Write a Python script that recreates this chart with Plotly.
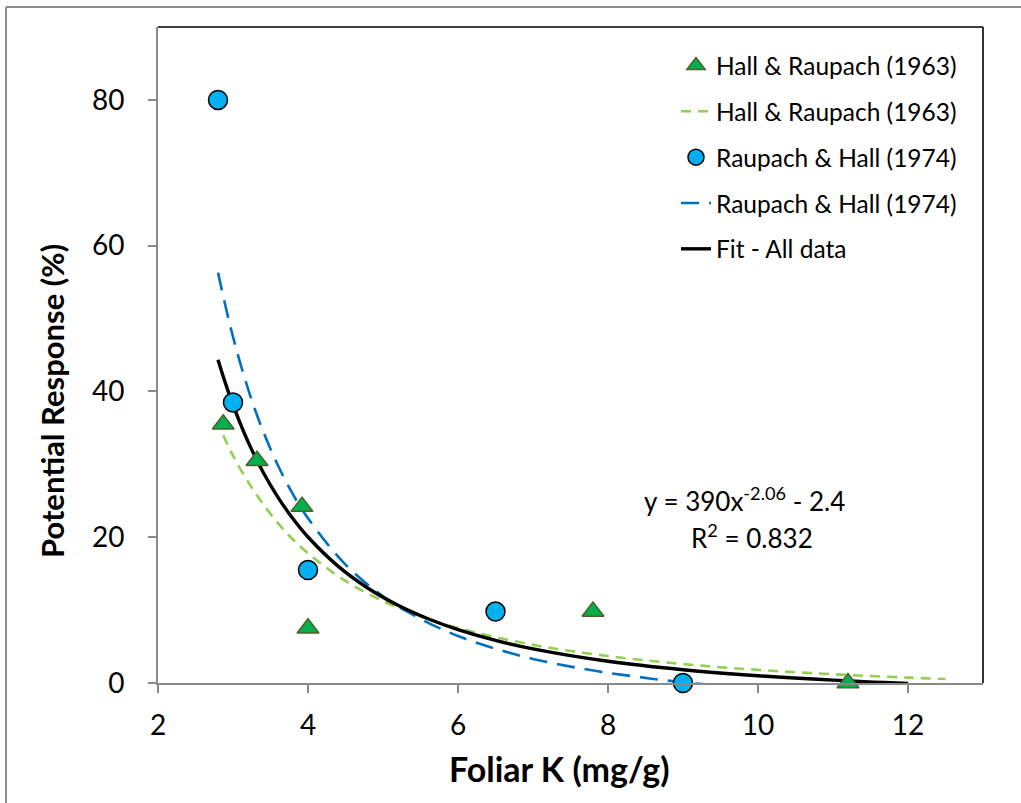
import plotly.graph_objects as go

FONT = "Lato"

# Observed responses, Hall & Raupach (1963)
hr63_k = [2.87, 3.32, 3.92, 4.0, 7.8, 11.2]
hr63_resp = [35.5, 30.5, 24.2, 7.5, 9.8, 0.0]

# Observed responses, Raupach & Hall (1974)
rh74_k = [2.8, 3.0, 4.0, 6.5, 9.0]
rh74_resp = [80.0, 38.5, 15.5, 9.8, 0.0]

# Response curve fitted to the 1963 data
hr63_curve_k = [2.87, 3.0, 3.25, 3.5, 3.75, 4.0, 4.5, 5.0, 5.5, 6.0, 7.0, 8.0, 9.0, 10.0, 11.0, 12.0, 12.5]
hr63_curve_resp = [34.0, 31.2, 26.8, 23.2, 20.2, 17.8, 14.0, 11.25, 9.16, 7.54, 5.23, 3.7, 2.6, 1.8, 1.2, 0.74, 0.54]

# Response curve fitted to the 1974 data
rh74_curve_k = [2.8, 3.0, 3.25, 3.5, 3.75, 4.0, 4.5, 5.0, 5.5, 6.0, 6.5, 7.0, 7.5, 8.0, 8.5, 9.0, 9.5]
rh74_curve_resp = [56.3, 47.5, 38.8, 32.1, 26.8, 22.6, 16.25, 11.9, 8.8, 6.45, 4.7, 3.3, 2.25, 1.4, 0.7, 0.1, -0.35]

# Combined fit over all data: y = a * x^b + c
fit_a = 390
fit_b = -2.06
fit_c = -2.4
fit_r2 = 0.832
fit_k = [2.8, 2.9, 3.0, 3.2, 3.4, 3.6, 3.8, 4.0, 4.4, 4.8, 5.2, 5.6, 6.0, 6.5, 7.0, 8.0, 9.0, 10.0, 11.0, 12.0]
fit_resp = [fit_a * k ** fit_b + fit_c for k in fit_k]

x_ticks = [2, 4, 6, 8, 10, 12]
y_ticks = [0, 20, 40, 60, 80]

# Page geometry (pixels)
W, H = 1021, 803
ML, MR, MT, MB = 158, 38, 27, 120
PW, PH = W - ML - MR, H - MT - MB


def px(x):
    return (x - ML) / PW


def py(y):
    return (H - MB - y) / PH


TRI_FILL = "#00B050"
TRI_EDGE = "#4F6228"
DOT_FILL = "#00B0F0"
GREEN_DASH = "#92D050"
BLUE_DASH = "#0070C0"
AXIS_GREY = "#898989"

fig = go.Figure()

# curves first so the markers sit on top
fig.add_trace(go.Scatter(
    x=hr63_curve_k, y=hr63_curve_resp, mode="lines", line_shape="spline",
    name="Hall & Raupach (1963)", legendrank=2, legendgroup="g2",
    line=dict(color=GREEN_DASH, width=2.6, dash="10px,7px"),
))
fig.add_trace(go.Scatter(
    x=rh74_curve_k, y=rh74_curve_resp, mode="lines", line_shape="spline",
    name="Raupach & Hall (1974)", legendrank=4, legendgroup="g4",
    line=dict(color=BLUE_DASH, width=2.6, dash="18px,10px"),
))
fig.add_trace(go.Scatter(
    x=fit_k, y=fit_resp, mode="lines", line_shape="spline",
    name="Fit - All data", legendrank=5, legendgroup="g5",
    line=dict(color="black", width=3.4),
))
fig.add_trace(go.Scatter(
    x=hr63_k, y=hr63_resp, mode="markers", cliponaxis=False,
    name="Hall & Raupach (1963)", legendrank=1, legendgroup="g1",
    marker=dict(symbol="triangle-up", size=19, color=TRI_FILL,
                line=dict(color=TRI_EDGE, width=1.5)),
))
fig.add_trace(go.Scatter(
    x=rh74_k, y=rh74_resp, mode="markers", cliponaxis=False,
    name="Raupach & Hall (1974)", legendrank=3, legendgroup="g3",
    marker=dict(symbol="circle", size=19, color=DOT_FILL,
                line=dict(color="black", width=1.5)),
))

axis_common = dict(
    showgrid=False, zeroline=False, showline=True, linecolor=AXIS_GREY, linewidth=2,
    ticks="outside", ticklen=8, tickwidth=2, tickcolor=AXIS_GREY,
    tickfont=dict(family=FONT, size=28, color="black"),
)

fig.update_xaxes(range=[2, 13], tickvals=x_ticks, ticklabelstandoff=8, **axis_common)
fig.update_yaxes(range=[0, 90], tickvals=y_ticks, ticklabelstandoff=18, **axis_common)

shapes = [
    # outer chart frame (left and top edges)
    dict(type="line", xref="paper", yref="paper", x0=px(6), x1=px(W + 5), y0=py(7), y1=py(7),
         line=dict(color="#8C8C8C", width=2)),
    dict(type="line", xref="paper", yref="paper", x0=px(6), x1=px(6), y0=py(7), y1=py(H + 5),
         line=dict(color="#8C8C8C", width=2)),
    # plot-area border on top and right
    dict(type="line", xref="paper", yref="paper", x0=0, x1=1, y0=1, y1=1,
         line=dict(color="black", width=1.6)),
    dict(type="line", xref="paper", yref="paper", x0=1, x1=1, y0=0, y1=1,
         line=dict(color="black", width=1.6)),
]

annotations = [
    dict(text=f"y = {fit_a}x<sup>{fit_b}</sup> - {abs(fit_c)}", xref="paper", yref="paper",
         x=px(744), y=py(500), xanchor="center", yanchor="middle", showarrow=False,
         font=dict(family=FONT, size=26, color="black")),
    dict(text=f"R<sup>2</sup> = {fit_r2}", xref="paper", yref="paper",
         x=px(752), y=py(536), xanchor="center", yanchor="middle", showarrow=False,
         font=dict(family=FONT, size=26, color="black")),
    dict(text="Foliar K (mg/g)", xref="paper", yref="paper",
         x=px(559), y=py(768), xanchor="center", yanchor="middle", showarrow=False,
         font=dict(family=FONT, size=34, color="black", weight="bold")),
    dict(text="Potential Response (%)", xref="paper", yref="paper", textangle=-90,
         x=px(52), y=py(401), xanchor="center", yanchor="middle", showarrow=False,
         font=dict(family=FONT, size=31, color="black", weight="bold")),
]

fig.update_layout(
    width=W, height=H,
    margin=dict(l=ML, r=MR, t=MT, b=MB, pad=0),
    paper_bgcolor="white", plot_bgcolor="white",
    showlegend=True,
    legend=dict(
        x=px(676), y=py(43), xanchor="left", yanchor="top",
        font=dict(family=FONT, size=24.5, color="black"),
        bgcolor="rgba(0,0,0,0)", borderwidth=0,
        traceorder="grouped", tracegroupgap=11, itemwidth=30,
    ),
    shapes=shapes,
    annotations=annotations,
    font=dict(family=FONT, color="black"),
)

fig.write_html("out.html")
